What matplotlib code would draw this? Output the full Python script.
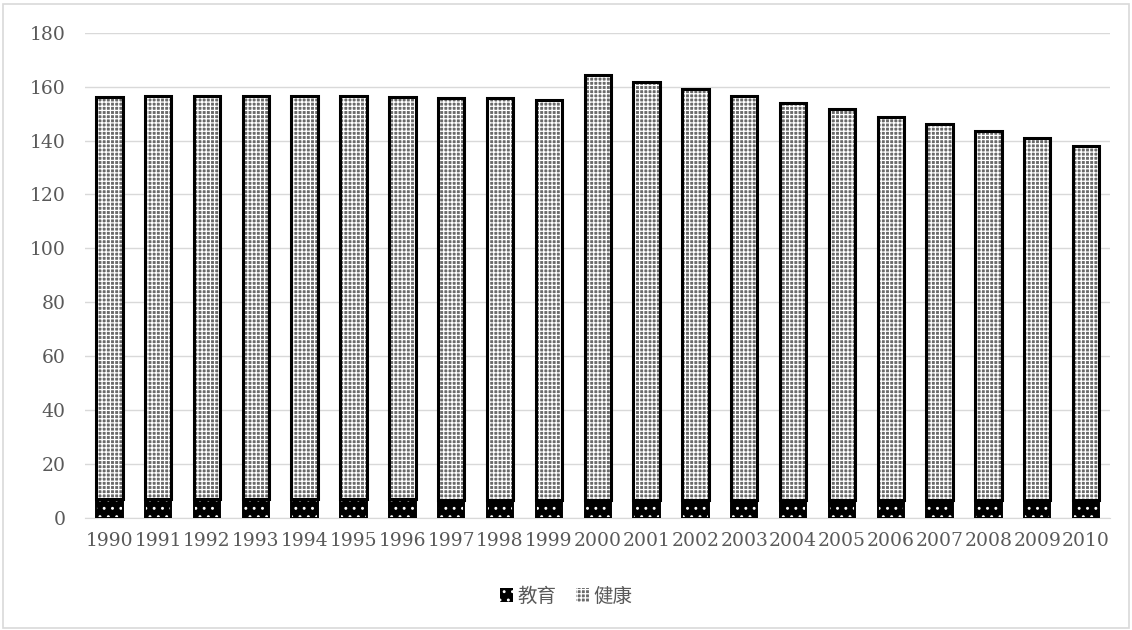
import matplotlib.pyplot as plt
import numpy as np
from matplotlib.patches import Rectangle

plt.rcParams['hatch.linewidth'] = 0.9

years = [str(y) for y in range(1990, 2011)]
education = [7.0, 7.0, 7.0, 7.0, 7.0, 7.0, 7.0, 6.8, 6.8, 6.8, 6.8,
             6.8, 6.8, 6.8, 6.8, 6.7, 6.7, 6.7, 6.6, 6.6, 6.5]
totals = [156.2, 156.5, 156.5, 156.5, 156.5, 156.5, 156.2, 155.7, 155.7, 155.2, 164.2,
          161.7, 159.2, 156.5, 154.0, 151.7, 148.7, 146.2, 143.7, 141.0, 138.0]
health = [t - e for t, e in zip(totals, education)]

fig = plt.figure(figsize=(11.32, 6.30), dpi=100)
ax = fig.add_axes([0.075, 0.178, 0.906, 0.77])

x = np.arange(len(years))
w = 0.54

# education: black with white dots
ax.bar(x, education, w, color='black', edgecolor='white', hatch='..', linewidth=0, zorder=2)
ax.bar(x, education, w, fill=False, edgecolor='black', linewidth=1.4, zorder=3)
# health: dense checker pattern
ax.bar(x, health, w, bottom=education, color='#6a6a6a', edgecolor='white', hatch='++++',
       linewidth=0, zorder=2)
ax.bar(x, health, w, bottom=education, fill=False, edgecolor='black', linewidth=2.2, zorder=3)

ax.set_ylim(0, 180)
ax.set_yticks(range(0, 181, 20))
ax.set_xlim(-0.5, len(years) - 0.5)
ax.set_xticks(x)
ax.set_xticklabels(years)
ax.grid(axis='y', color='#d9d9d9', linewidth=1, zorder=0)
for s in ['top', 'right', 'left']:
    ax.spines[s].set_visible(False)
ax.spines['bottom'].set_color('#d9d9d9')
ax.tick_params(length=0, labelsize=13.5, labelcolor='#595959', pad=10)
for lab in ax.get_xticklabels() + ax.get_yticklabels():
    lab.set_family('DejaVu Serif')
ax.tick_params(axis='y', pad=14)

h1 = Rectangle((0, 0), 1, 1, facecolor='black', edgecolor='white', hatch='..', linewidth=0)
h2 = Rectangle((0, 0), 1, 1, facecolor='#6a6a6a', edgecolor='white', hatch='++++', linewidth=0)
leg = fig.legend([h1, h2], ['教育', '健康'], loc='center', bbox_to_anchor=(0.5, 0.053),
                 ncol=2, frameon=False, handlelength=0.7, handleheight=0.7,
                 handletextpad=0.2, columnspacing=1.0,
                 prop={'family': ['Noto Sans CJK SC', 'DejaVu Sans'], 'size': 14})
for t in leg.get_texts():
    t.set_color('#595959')

fig.patches.append(Rectangle((0.003, 0.003), 0.994, 0.99, transform=fig.transFigure,
                             fill=False, edgecolor='#d9d9d9', linewidth=1.2))

fig.savefig('out.png', dpi=100)
